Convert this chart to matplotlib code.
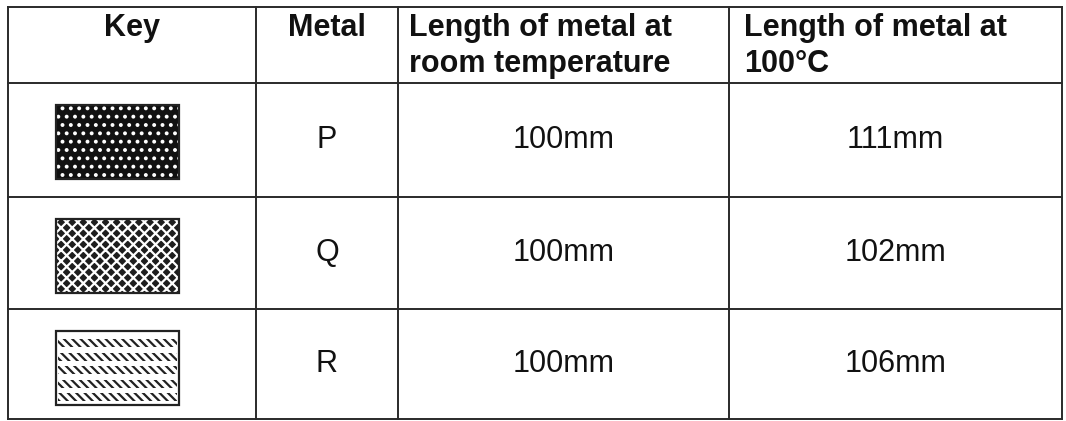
import matplotlib
matplotlib.use("Agg")
import matplotlib.pyplot as plt
from matplotlib.patches import Rectangle

plt.rcParams['font.family'] = ['Liberation Sans', 'DejaVu Sans']
plt.rcParams['hatch.linewidth'] = 1.6

# table content
headers = ["Key", "Metal", "Length of metal at\nroom temperature", "Length of metal at\n100\u00b0C"]
metals = ["P", "Q", "R"]
room_temp = ["100mm", "100mm", "100mm"]
hot_temp = ["111mm", "102mm", "106mm"]

# key swatch looks (face, hatch, hatch colour)
swatch_face = ["#111111", "#1e1e1e", "white"]
swatch_hatch = ["..", "xxx", "\\\\\\\\"]
swatch_edge = ["white", "white", "#222222"]

# layout in pixels
col_x = [8, 256, 398, 729, 1062]
row_y = [7, 83, 197, 309, 419]

fig = plt.figure(figsize=(10.66, 4.21), dpi=100)
ax = fig.add_axes([0, 0, 1, 1])
ax.set_xlim(0, 1066)
ax.set_ylim(421, 0)
ax.axis('off')

line_c = "#2a2a2a"
for x in col_x:
    ax.plot([x, x], [row_y[0], row_y[-1]], color=line_c, lw=1.4)
for y in row_y:
    ax.plot([col_x[0], col_x[-1]], [y, y], color=line_c, lw=1.4)

fs = 22
tc = '#111111'
# header
ax.text((col_x[0] + col_x[1]) / 2, 28, headers[0], ha='center', va='center',
        fontsize=fs, fontweight='bold', color=tc)
ax.text((col_x[1] + col_x[2]) / 2, 28, headers[1], ha='center', va='center',
        fontsize=fs, fontweight='bold', color=tc)
ax.text(col_x[2] + 11, 46, headers[2], ha='left', va='center',
        fontsize=fs, fontweight='bold', color=tc, linespacing=1.25)
ax.text(col_x[3] + 15, 46, headers[3], ha='left', va='center',
        fontsize=fs, fontweight='bold', color=tc, linespacing=1.25)

sw, sh = 123, 74
for i in range(len(metals)):
    top, bot = row_y[i + 1], row_y[i + 2]
    cy = (top + bot) / 2
    sx, sy = 56, top + 22
    # key swatch
    if i < 2:
        ax.add_patch(Rectangle((sx, sy), sw, sh, facecolor=swatch_face[i],
                               hatch=swatch_hatch[i], edgecolor=swatch_edge[i], lw=0))
    else:
        # rows of short slanted strokes
        for k in range(5):
            ax.add_patch(Rectangle((sx + 2, sy + 8 + k * 13.5), sw - 4, 8,
                                   facecolor=swatch_face[i], hatch=swatch_hatch[i],
                                   edgecolor=swatch_edge[i], lw=0))
    ax.add_patch(Rectangle((sx, sy), sw, sh, facecolor='none',
                           edgecolor='#222222', lw=1.6))
    ax.text((col_x[1] + col_x[2]) / 2, cy, metals[i], ha='center', va='center',
            fontsize=fs, color=tc)
    ax.text((col_x[2] + col_x[3]) / 2, cy, room_temp[i], ha='center', va='center',
            fontsize=fs, color=tc)
    ax.text((col_x[3] + col_x[4]) / 2, cy, hot_temp[i], ha='center', va='center',
            fontsize=fs, color=tc)

fig.savefig("out.png", dpi=100, facecolor='white')
